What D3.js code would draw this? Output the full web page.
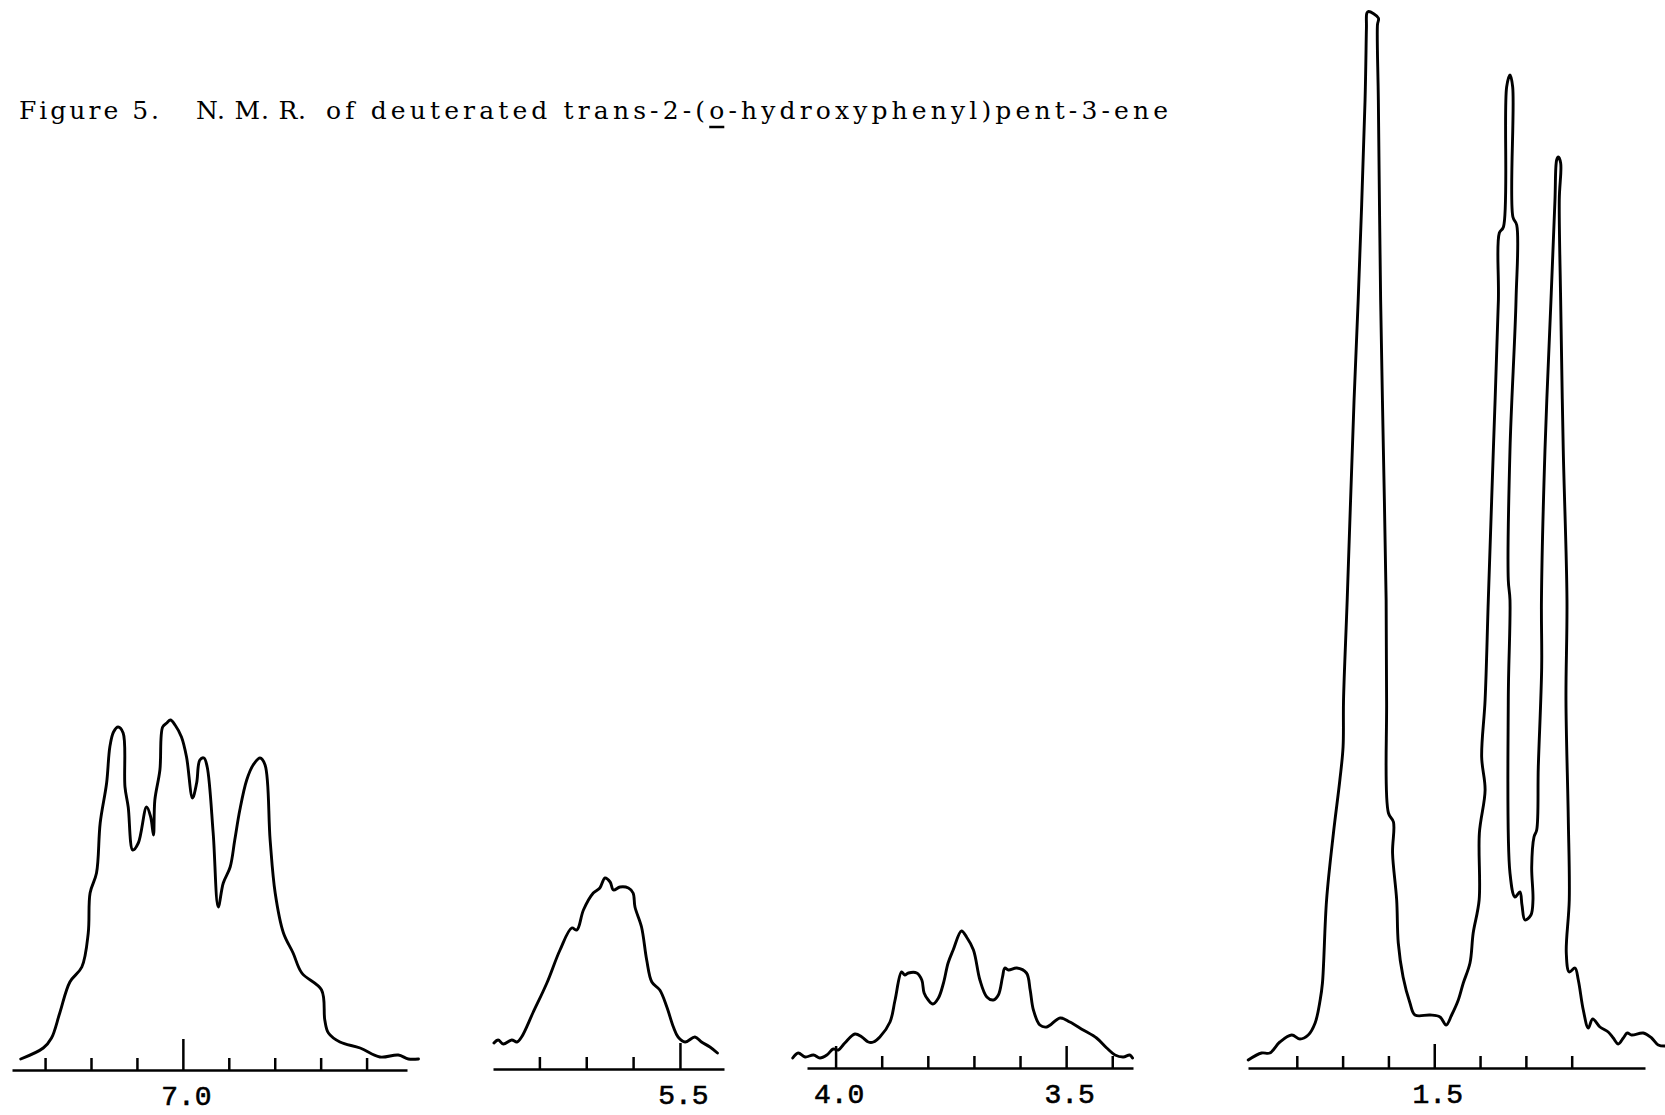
<!DOCTYPE html>
<html><head><meta charset="utf-8">
<script src="https://cdn.jsdelivr.net/npm/d3@7"></script>
<style>
html,body{margin:0;padding:0;background:#fff;}
svg{display:block;background:#fff;}
</style></head><body>
<svg id="chart" width="1665" height="1115"></svg>
<script>
// ---------- text ----------
const titleParts = ["Figure 5.", "N. M. R.", "of deuterated trans-2-(o-hydroxyphenyl)pent-3-ene"];

// ---------- tick values (ppm) ----------
const aromaticTicks = [7.3, 7.2, 7.1, 7.0, 6.9, 6.8, 6.7, 6.6];
const olefinTicks   = [5.8, 5.7, 5.6, 5.5];
const methineTicks  = [4.0, 3.9, 3.8, 3.7, 3.6, 3.5, 3.4];
const methylTicks   = [1.8, 1.7, 1.6, 1.5, 1.4, 1.3, 1.2];
const aromaticMajor = [7.0];
const olefinMajor   = [5.5];
const methineMajor  = [4.0, 3.5];
const methylMajor   = [1.5];

// ---------- traces: [chemical shift (ppm), intensity] ----------
const aromaticTrace = [[7.353,1.0],[7.304,2.1],[7.286,3.1],[7.268,5.6],[7.246,8.7],[7.220,10.2],[7.206,13.6],[7.202,17.6],[7.188,19.6],[7.180,24.6],[7.166,28.6],[7.159,32.2],[7.151,33.7],[7.141,34.2],[7.130,33.6],[7.126,28.2],[7.119,26.2],[7.109,21.9],[7.097,22.6],[7.079,26.2],[7.070,25.2],[7.064,23.4],[7.061,26.9],[7.050,29.9],[7.044,34.2],[7.035,34.6],[7.027,34.9],[7.017,34.4],[7.003,33.2],[6.992,31.2],[6.979,27.1],[6.970,28.6],[6.963,30.9],[6.954,31.1],[6.947,30.2],[6.934,23.6],[6.923,16.2],[6.912,18.6],[6.897,20.2],[6.887,22.9],[6.876,25.9],[6.861,28.9],[6.847,30.4],[6.832,31.1],[6.821,30.4],[6.810,22.9],[6.799,17.6],[6.781,13.6],[6.760,11.6],[6.741,9.6],[6.698,7.9],[6.691,4.9],[6.683,3.6],[6.658,2.7],[6.614,2.1],[6.571,1.2],[6.531,1.4],[6.509,1.0],[6.487,1.0]];

const olefinTrace = [[5.897,2.6],[5.888,2.9],[5.877,2.5],[5.859,2.9],[5.848,2.7],[5.838,3.2],[5.813,5.7],[5.784,8.6],[5.756,11.9],[5.731,14.1],[5.720,13.9],[5.706,15.9],[5.685,17.6],[5.671,18.1],[5.660,19.1],[5.649,18.7],[5.642,17.9],[5.628,18.2],[5.610,18.1],[5.600,17.6],[5.596,16.2],[5.582,14.2],[5.571,10.9],[5.560,8.7],[5.543,7.9],[5.528,6.2],[5.514,4.2],[5.504,3.2],[5.489,2.7],[5.468,3.2],[5.454,2.7],[5.436,2.2],[5.420,1.6]];

const methineTrace = [[4.093,1.1],[4.081,1.6],[4.066,1.2],[4.048,1.4],[4.034,1.1],[4.019,1.4],[4.005,2.0],[3.994,1.9],[3.980,2.6],[3.958,3.5],[3.943,3.2],[3.929,2.7],[3.918,2.7],[3.904,3.2],[3.882,4.7],[3.871,6.9],[3.857,9.7],[3.850,9.4],[3.842,9.6],[3.824,9.6],[3.813,8.9],[3.808,7.6],[3.799,6.9],[3.789,6.5],[3.777,7.1],[3.766,8.6],[3.756,10.6],[3.745,11.9],[3.727,13.8],[3.716,13.2],[3.701,11.9],[3.687,8.9],[3.672,7.2],[3.658,6.9],[3.647,7.4],[3.638,9.2],[3.633,10.1],[3.625,9.9],[3.607,10.1],[3.586,9.6],[3.578,7.9],[3.571,5.9],[3.557,4.4],[3.542,4.2],[3.513,5.1],[3.492,4.7],[3.463,3.9],[3.434,3.1],[3.412,2.1],[3.394,1.4],[3.376,1.2],[3.362,1.4],[3.356,1.1]];

const methylTrace = [[1.906,0.9],[1.877,1.6],[1.859,1.6],[1.837,2.7],[1.811,3.4],[1.793,3.0],[1.775,3.4],[1.760,4.6],[1.749,6.9],[1.744,8.6],[1.735,16.9],[1.720,23.6],[1.706,28.9],[1.699,32.2],[1.698,36.9],[1.690,46.9],[1.675,66.9],[1.666,76.9],[1.651,96.9],[1.648,104.1],[1.647,105.6],[1.6435,105.75],[1.622,105.1],[1.624,104.4],[1.622,96.9],[1.617,76.9],[1.611,61.9],[1.605,46.9],[1.604,36.9],[1.600,25.6],[1.589,24.7],[1.591,21.6],[1.582,16.9],[1.5785,12.6],[1.568,9.2],[1.553,6.6],[1.542,5.4],[1.509,5.4],[1.4875,5.2],[1.474,4.4],[1.462,5.4],[1.4475,6.9],[1.4366,8.6],[1.422,10.6],[1.415,13.6],[1.402,16.9],[1.4015,23.6],[1.389,27.9],[1.3965,31.2],[1.389,36.9],[1.382,46.9],[1.371,61.9],[1.360,76.9],[1.358,83.6],[1.349,84.2],[1.342,98.2],[1.3347,99.4],[1.3288,98.2],[1.3283,85.2],[1.320,84.4],[1.3215,76.9],[1.3347,61.9],[1.3384,48.9],[1.3347,46.9],[1.3384,36.9],[1.3347,19.6],[1.3238,17.2],[1.313,17.7],[1.3085,16.4],[1.302,14.9],[1.289,15.4],[1.2845,16.9],[1.2873,20.2],[1.2823,23.2],[1.2764,23.9],[1.2729,30.2],[1.2655,40.2],[1.266,46.9],[1.2583,61.9],[1.2452,76.9],[1.2365,86.9],[1.2328,90.9],[1.2293,91.2],[1.2241,90.6],[1.2271,86.9],[1.2241,76.9],[1.2184,61.9],[1.2103,46.9],[1.2125,36.9],[1.2075,25.2],[1.2053,16.9],[1.2118,11.6],[1.2053,9.7],[1.1928,10.1],[1.1856,8.9],[1.1747,5.9],[1.1638,4.1],[1.1542,5.0],[1.1383,4.2],[1.1202,3.7],[1.1093,3.1],[1.0983,2.5],[1.0874,3.1],[1.0787,3.6],[1.0691,3.4],[1.0438,3.6],[1.0255,3.1],[1.011,2.4],[0.9964,2.3]];

// ---------- layout ----------
const svg = d3.select("#chart");
const y = d3.scaleLinear().domain([0, 100]).range([1069, 69]);

const panels = [
  {data: aromaticTrace, ticks: aromaticTicks, majors: aromaticMajor, domain: [7.372, 6.512], range: [12, 407],   axisY: 1070, majorLen: 31},
  {data: olefinTrace,   ticks: olefinTicks,   majors: olefinMajor,   domain: [5.899, 5.406], range: [493, 724],  axisY: 1069, majorLen: 26},
  {data: methineTrace,  ticks: methineTicks,  majors: methineMajor,  domain: [4.062, 3.355], range: [807, 1133], axisY: 1068, majorLen: 22},
  {data: methylTrace,   ticks: methylTicks,   majors: methylMajor,   domain: [1.9065, 1.040], range: [1248, 1645], axisY: 1068, majorLen: 24}
];

panels.forEach(p => {
  const x = d3.scaleLinear().domain(p.domain).range(p.range);
  const axis = d3.axisBottom(x)
    .tickValues(p.ticks)
    .tickSize(-12)
    .tickSizeOuter(0)
    .tickPadding(15)
    .tickFormat(d => p.majors.includes(d) ? d.toFixed(1) : "");
  const g = svg.append("g").attr("transform", `translate(0,${p.axisY})`).call(axis);
  g.select(".domain").attr("stroke", "#000").attr("stroke-width", 2.3);
  g.selectAll(".tick line")
    .attr("stroke", "#000").attr("stroke-width", 2.5)
    .attr("y2", d => p.majors.includes(d) ? -p.majorLen : -12);
  g.selectAll(".tick text")
    .attr("font-family", "'Liberation Mono', 'DejaVu Sans Mono', monospace")
    .attr("font-size", 28).attr("fill", "#000")
    .attr("stroke", "#000").attr("stroke-width", 0.6)
    .attr("dx", 3);

  const line = d3.line()
    .x(d => x(d[0])).y(d => y(d[1]))
    .curve(d3.curveCatmullRom.alpha(0.5));
  svg.append("path").datum(p.data)
    .attr("d", line)
    .attr("fill", "none").attr("stroke", "#000")
    .attr("stroke-width", 2.9)
    .attr("stroke-linejoin", "round").attr("stroke-linecap", "round");
});

// ---------- title ----------
const titleLayout = [{x: 19, w: 140}, {x: 196, w: 110}, {x: 326, w: 842}];
const titleBase = 119;
titleParts.forEach((t, i) => {
  const el = svg.append("text")
    .attr("x", titleLayout[i].x).attr("y", titleBase)
    .attr("font-family", "'DejaVu Serif', 'Liberation Serif', serif")
    .attr("font-size", 25).attr("fill", "#000")
    .attr("textLength", titleLayout[i].w).attr("lengthAdjust", "spacing")
    .text(t);
  if (i === 2) {
    const idx = t.indexOf("(o") + 1;
    const ext = el.node().getExtentOfChar(idx);
    svg.append("line")
      .attr("x1", ext.x).attr("x2", ext.x + ext.width)
      .attr("y1", titleBase + 8).attr("y2", titleBase + 8)
      .attr("stroke", "#000").attr("stroke-width", 2.5);
  }
});
</script>
</body></html>
